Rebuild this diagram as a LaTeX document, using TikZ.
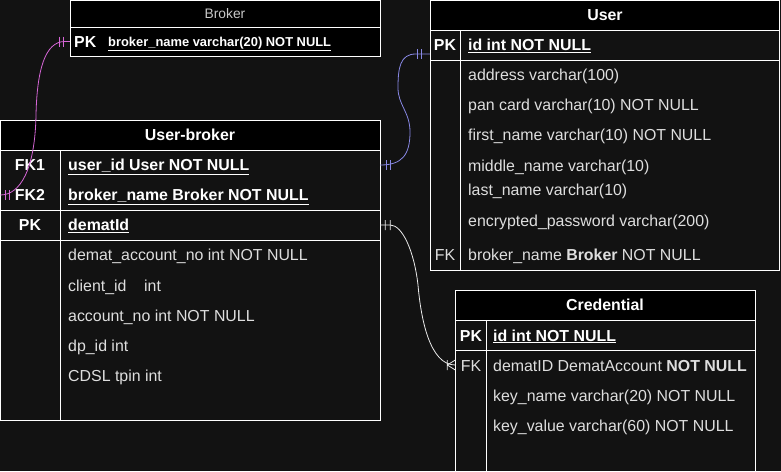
\documentclass[tikz,border=0pt]{standalone}
\usepackage{fontspec}
\setmainfont{Liberation Sans}
\usetikzlibrary{positioning}

\definecolor{bg}{RGB}{18,18,18}
\definecolor{txt}{RGB}{222,222,222}
\definecolor{pinkline}{RGB}{214,102,214}
\definecolor{blueline}{RGB}{136,136,228}
\definecolor{linkline}{RGB}{235,235,235}

\begin{document}
\begin{tikzpicture}[x=1pt,y=-1pt,
    tbl/.style={draw=white,line width=1pt},
    fld/.style={anchor=base west,inner sep=0pt,text=txt,font=\fontsize{15.9}{18}\selectfont},
    keyfld/.style={fld,text=white,font=\fontsize{15.9}{18}\selectfont\bfseries},
    keycol/.style={anchor=base,inner sep=0pt,text=white,font=\fontsize{15.9}{18}\selectfont\bfseries},
    hdr/.style={anchor=base,inner sep=0pt,text=white,font=\fontsize{15.9}{18}\selectfont\bfseries},
    rowbox/.style={inner sep=0pt,minimum height=29pt},
    rel/.style={line width=0.8pt}]

            \fill[bg] (0,0) rectangle (781,471);
            \useasboundingbox (0,0) rectangle (781,471);
            \clip (0,0) rectangle (781,471);

            % Broker
            \fill[black] (70,0.8) rectangle (380,56);
            \draw[tbl] (70,0.8) rectangle (380,56);
            \draw[tbl] (70,27) -- (380,27);
            \node[hdr,text=txt!90!black,font=\fontsize{13.8}{16}\selectfont] (brkhead) at (225,18.5) {Broker};
            \node[rowbox,minimum width=310pt] (brkpk) at (225,41.5) {};
            \node[keycol,anchor=base west] (brkpkkey) at (74,47) {PK};
            \node[keyfld,font=\fontsize{12.9}{15}\selectfont\bfseries] (brkpkname) at (108,46) {\underline{broker\_name varchar(20) NOT NULL}};

            % User
            \fill[black] (430,0.8) rectangle (779.5,30);
            \draw[tbl] (430,0.8) rectangle (779.5,270);
            \draw[tbl] (430,30) -- (779.5,30) (430,60) -- (779.5,60) (460,30) -- (460,270);
            \node[hdr] (usrhead) at (605,20.5) {User};
            \node[rowbox,minimum width=349.5pt] (usrpk) at (604.75,45) {};
            \node[keycol] (usrpkkey) at (445,50.5) {PK};
            \node[keyfld] (usrid) at (468,50.5) {\underline{id int NOT NULL}};
            \node[fld] (usraddr) at (468,80.5) {address varchar(100)};
            \node[fld] (usrpan) at (468,110.5) {pan card varchar(10) NOT NULL};
            \node[fld] (usrfirst) at (468,140.5) {first\_name varchar(10) NOT NULL};
            \node[fld] (usrmid) at (468,171.5) {middle\_name varchar(10)};
            \node[fld] (usrlast) at (468,195.5) {last\_name varchar(10)};
            \node[fld] (usrpwd) at (468,226.5) {encrypted\_password varchar(200)};
            \node[keycol,text=txt,font=\fontsize{15.9}{18}\selectfont] (usrfkkey) at (445,260.5) {FK};
            \node[fld] (usrbrk) at (468,260.5) {broker\_name \textbf{Broker} NOT NULL};

            % User-broker
            \fill[black] (0.5,120) rectangle (380,150);
            \draw[tbl] (0.5,120) rectangle (380,420);
            \draw[tbl] (0.5,150) -- (380,150) (0.5,210) -- (380,210) (0.5,240) -- (380,240) (60,150) -- (60,420);
            \node[hdr] (ubhead) at (190,140.5) {User-broker};
            \node[rowbox,minimum width=379.5pt] (ubfk1) at (190.25,165) {};
            \node[rowbox,minimum width=379.5pt] (ubfk2) at (190.25,195) {};
            \node[rowbox,minimum width=379.5pt] (ubpk) at (190.25,225) {};
            \node[keycol] (ubfk1key) at (30,170.5) {FK1};
            \node[keycol] (ubfk2key) at (30,200.5) {FK2};
            \node[keycol] (ubpkkey) at (30,230.5) {PK};
            \node[keyfld] (ubuser) at (68,170.5) {\underline{user\_id User NOT NULL}};
            \node[keyfld] (ubbroker) at (68,200.5) {\underline{broker\_name Broker NOT NULL}};
            \node[keyfld] (ubdemat) at (68,230.5) {\underline{dematId}};
            \node[fld] (ubacc) at (68,260.7) {demat\_account\_no int NOT NULL};
            \node[fld] (ubclient) at (68,291.5) {client\_id\ \ \ \ int};
            \node[fld] (ubaccno) at (68,321) {account\_no int NOT NULL};
            \node[fld] (ubdp) at (68,351.5) {dp\_id int};
            \node[fld] (ubtpin) at (68,381.5) {CDSL tpin int};

            % Credential
            \fill[black] (455.5,290) rectangle (755,320);
            \draw[tbl] (455.5,290) rectangle (755,480);
            \draw[tbl] (455.5,320) -- (755,320) (455.5,350) -- (755,350) (486,320) -- (486,480);
            \node[hdr] (crhead) at (605,310.7) {Credential};
            \node[rowbox,minimum width=299.5pt] (crfk) at (605.25,365) {};
            \node[keycol] (crpkkey) at (471,341) {PK};
            \node[keyfld] (crid) at (493,341) {\underline{id int NOT NULL}};
            \node[keycol,text=txt,font=\fontsize{15.9}{18}\selectfont] (crfkkey) at (471,371.5) {FK};
            \node[fld] (crdemat) at (493,371.5) {dematID DematAccount \textbf{NOT NULL}};
            \node[fld] (crkname) at (493,401) {key\_name varchar(20) NOT NULL};
            \node[fld] (crkvalue) at (493,431.5) {key\_value varchar(60) NOT NULL};

            % relations
            \draw[rel,pinkline] (brkpk.west) -- ++(-5,0) .. controls (45,41.5) and (37,70) .. (36,115)
                .. controls (35,170) and (20,195) .. (ubfk2.west);
            \draw[rel,pinkline] ([xshift=-6pt]brkpk.west) ++(0,-5) -- ++(0,10)
                ([xshift=-10pt]brkpk.west) ++(0,-5) -- ++(0,10)
                ([xshift=5pt]ubfk2.west) ++(0,-5) -- ++(0,10)
                ([xshift=9pt]ubfk2.west) ++(0,-5) -- ++(0,10);

            \draw[rel,blueline] ([yshift=-9pt]usrpk.west) -- ++(-14,0) .. controls (400,54) and (398,68) .. (398,88)
                .. controls (398,105) and (410,112) .. (410,132)
                .. controls (410,155) and (402,165) .. (ubfk1.east);
            \draw[rel,blueline] ([xshift=-8pt,yshift=-9pt]usrpk.west) ++(0,-5) -- ++(0,10)
                ([xshift=-12pt,yshift=-9pt]usrpk.west) ++(0,-5) -- ++(0,10)
                ([xshift=6pt]ubfk1.east) ++(0,-5) -- ++(0,10)
                ([xshift=10pt]ubfk1.east) ++(0,-5) -- ++(0,10);

            \draw[rel,linkline] (ubpk.east) -- ++(10,0) .. controls (402,225) and (414,250) .. (418,285)
                .. controls (421,320) and (430,365) .. (crfk.west);
            \draw[rel,linkline] ([xshift=5pt]ubpk.east) ++(0,-5) -- ++(0,10)
                ([xshift=10pt]ubpk.east) ++(0,-5) -- ++(0,10)
                ([xshift=-8pt]crfk.west) ++(0,-5) -- ++(0,10)
                ([xshift=-8pt]crfk.west) -- ++(8,-5)
                ([xshift=-8pt]crfk.west) -- ++(8,5);
        \end{tikzpicture}
\end{document}
